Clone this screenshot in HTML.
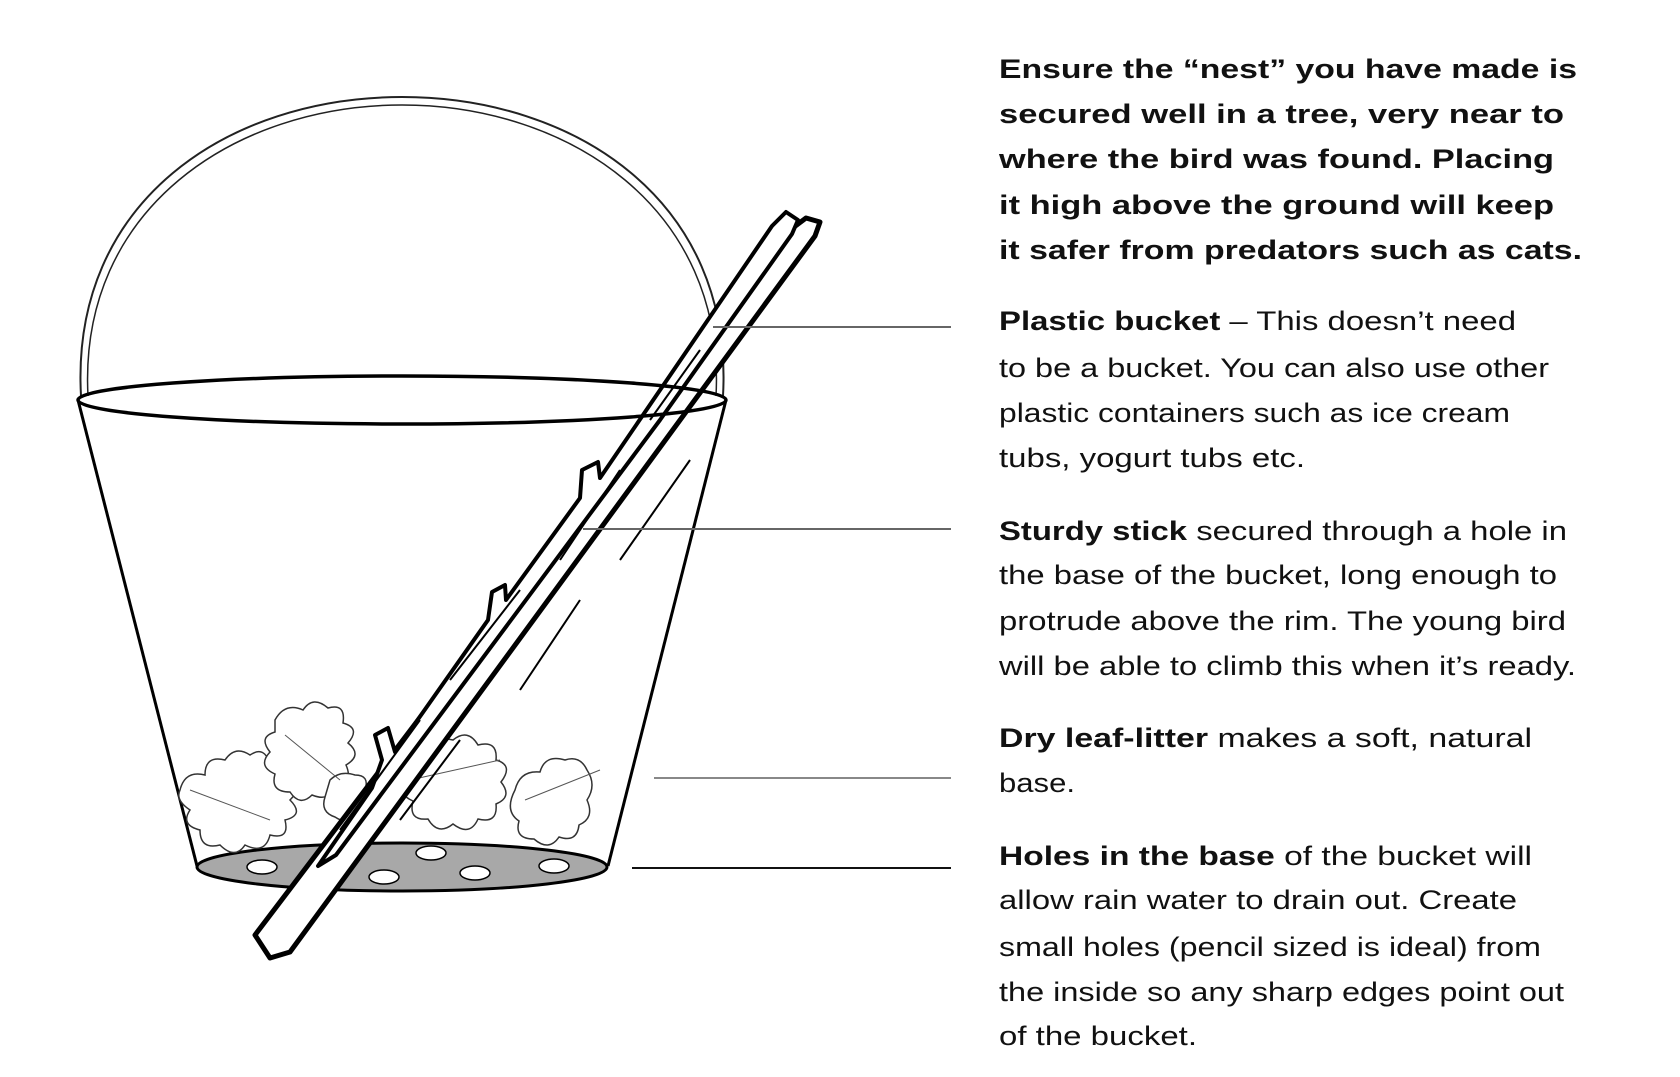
<!DOCTYPE html>
<html><head><meta charset="utf-8"><style>
html,body{margin:0;padding:0;background:#fff;}
svg{display:block}
text{font-family:"Liberation Sans",sans-serif;font-size:27px;fill:#111}
.b{font-weight:bold}
</style></head><body>
<svg width="1680" height="1077" viewBox="0 0 1680 1077" xmlns="http://www.w3.org/2000/svg">
<path d="M81,396 C70,200 230,97 402,97 C574,97 734,200 723,396" fill="none" stroke="#222" stroke-width="2"/>
<path d="M88,396 C78,208 236,105 402,105 C568,105 726,208 716,396" fill="none" stroke="#222" stroke-width="1.5"/>
<line x1="78" y1="400" x2="197" y2="866" stroke="#000" stroke-width="3"/>
<line x1="726" y1="400" x2="608" y2="866" stroke="#000" stroke-width="3"/>
<ellipse cx="402" cy="867" rx="205" ry="24" fill="#a8a8a8" stroke="#000" stroke-width="3"/>
<g fill="#fff" stroke="#000" stroke-width="1.5">
<ellipse cx="262" cy="867" rx="15" ry="7"/><ellipse cx="384" cy="877" rx="15" ry="7"/>
<ellipse cx="431" cy="853" rx="15" ry="7"/><ellipse cx="475" cy="873" rx="15" ry="7"/>
<ellipse cx="554" cy="866" rx="15" ry="7"/>
</g>
<g fill="#fff" stroke="#333" stroke-width="1.5">
<path d="M180,790 q5,-20 25,-15 q0,-20 20,-15 q10,-15 25,-5 q15,-10 20,10 q20,-5 15,15 q20,5 5,20 q15,15 -5,20 q5,20 -15,15 q-5,20 -25,10 q-10,15 -25,0 q-20,5 -20,-15 q-20,-5 -10,-20 q-15,-10 -10,-20z"/>
<path d="M275,720 q10,-18 28,-10 q10,-15 25,-2 q18,-5 15,15 q18,5 5,20 q15,12 -2,22 q8,18 -12,18 q-2,20 -22,12 q-12,12 -22,-3 q-20,0 -15,-18 q-18,-8 -5,-22 q-12,-15 5,-20z"/>
<path d="M400,770 q8,-20 28,-15 q5,-20 25,-15 q15,-12 25,5 q20,-5 18,15 q18,5 5,22 q12,15 -5,22 q2,20 -18,15 q-8,18 -25,5 q-15,12 -25,-5 q-20,2 -15,-18 q-18,-8 -8,-22 q-10,-12 0,-14z"/>
<path d="M515,790 q5,-20 25,-18 q5,-18 25,-12 q15,-5 22,10 q10,15 0,30 q8,18 -8,25 q-2,18 -20,12 q-10,15 -25,2 q-20,0 -15,-18 q-15,-10 -4,-31z"/>
<path d="M330,780 q10,-10 25,-5 q15,0 10,15 q10,15 -5,22 q-10,15 -25,5 q-15,-5 -10,-20z"/>
</g>
<g stroke="#555" stroke-width="1" fill="none">
<path d="M190,790 L270,820"/><path d="M285,735 L340,780"/><path d="M410,780 L500,760"/><path d="M525,800 L600,770"/>
</g>
<path d="M255,935 L790,230 L806,218 L820,222 L815,236 L290,952 L270,958 Z" fill="#fff" stroke="#000" stroke-width="5" stroke-linejoin="round"/>
<path d="M318,866 L372,788 L382,760 L375,735 L388,728 L395,752 L488,620 L492,592 L505,585 L506,600 L580,498 L582,470 L598,462 L600,478 L772,226 L786,212 L798,220 L792,234 L660,420 L336,855 Z" fill="#fff" stroke="#000" stroke-width="4" stroke-linejoin="round"/>
<g stroke="#000" stroke-width="2" fill="none">
<path d="M340,830 L420,720"/><path d="M450,680 L520,590"/><path d="M560,560 L620,470"/><path d="M650,420 L700,350"/>
<path d="M400,820 L460,740"/><path d="M520,690 L580,600"/><path d="M620,560 L690,460"/>
</g>
<ellipse cx="402" cy="400" rx="324" ry="24" fill="none" stroke="#000" stroke-width="3.5"/>
<line x1="713" y1="327" x2="951" y2="327" stroke="#666" stroke-width="2"/>
<line x1="583" y1="529" x2="951" y2="529" stroke="#666" stroke-width="2"/>
<line x1="654" y1="778" x2="951" y2="778" stroke="#888" stroke-width="2"/>
<line x1="632" y1="868" x2="951" y2="868" stroke="#111" stroke-width="2"/>
<g>
<text class="b" x="999" y="78" textLength="578" lengthAdjust="spacingAndGlyphs">Ensure the “nest” you have made is</text>
<text class="b" x="999" y="123" textLength="565" lengthAdjust="spacingAndGlyphs">secured well in a tree, very near to</text>
<text class="b" x="999" y="168" textLength="555" lengthAdjust="spacingAndGlyphs">where the bird was found. Placing</text>
<text class="b" x="999" y="214" textLength="555" lengthAdjust="spacingAndGlyphs">it high above the ground will keep</text>
<text class="b" x="999" y="259" textLength="583" lengthAdjust="spacingAndGlyphs">it safer from predators such as cats.</text>

<text x="999" y="330" textLength="517" lengthAdjust="spacingAndGlyphs"><tspan class="b">Plastic bucket</tspan> – This doesn’t need</text>
<text x="999" y="377" textLength="550" lengthAdjust="spacingAndGlyphs">to be a bucket. You can also use other</text>
<text x="999" y="422" textLength="511" lengthAdjust="spacingAndGlyphs">plastic containers such as ice cream</text>
<text x="999" y="467" textLength="306" lengthAdjust="spacingAndGlyphs">tubs, yogurt tubs etc.</text>

<text x="999" y="540" textLength="568" lengthAdjust="spacingAndGlyphs"><tspan class="b">Sturdy stick</tspan> secured through a hole in</text>
<text x="999" y="584" textLength="558" lengthAdjust="spacingAndGlyphs">the base of the bucket, long enough to</text>
<text x="999" y="630" textLength="567" lengthAdjust="spacingAndGlyphs">protrude above the rim. The young bird</text>
<text x="999" y="675" textLength="577" lengthAdjust="spacingAndGlyphs">will be able to climb this when it’s ready.</text>

<text x="999" y="747" textLength="533" lengthAdjust="spacingAndGlyphs"><tspan class="b">Dry leaf-litter</tspan> makes a soft, natural</text>
<text x="999" y="792" textLength="76" lengthAdjust="spacingAndGlyphs">base.</text>

<text x="999" y="865" textLength="533" lengthAdjust="spacingAndGlyphs"><tspan class="b">Holes in the base</tspan> of the bucket will</text>
<text x="999" y="909" textLength="518" lengthAdjust="spacingAndGlyphs">allow rain water to drain out. Create</text>
<text x="999" y="956" textLength="542" lengthAdjust="spacingAndGlyphs">small holes (pencil sized is ideal) from</text>
<text x="999" y="1001" textLength="565" lengthAdjust="spacingAndGlyphs">the inside so any sharp edges point out</text>
<text x="999" y="1045" textLength="198" lengthAdjust="spacingAndGlyphs">of the bucket.</text>
</g>
</svg>
</body></html>
